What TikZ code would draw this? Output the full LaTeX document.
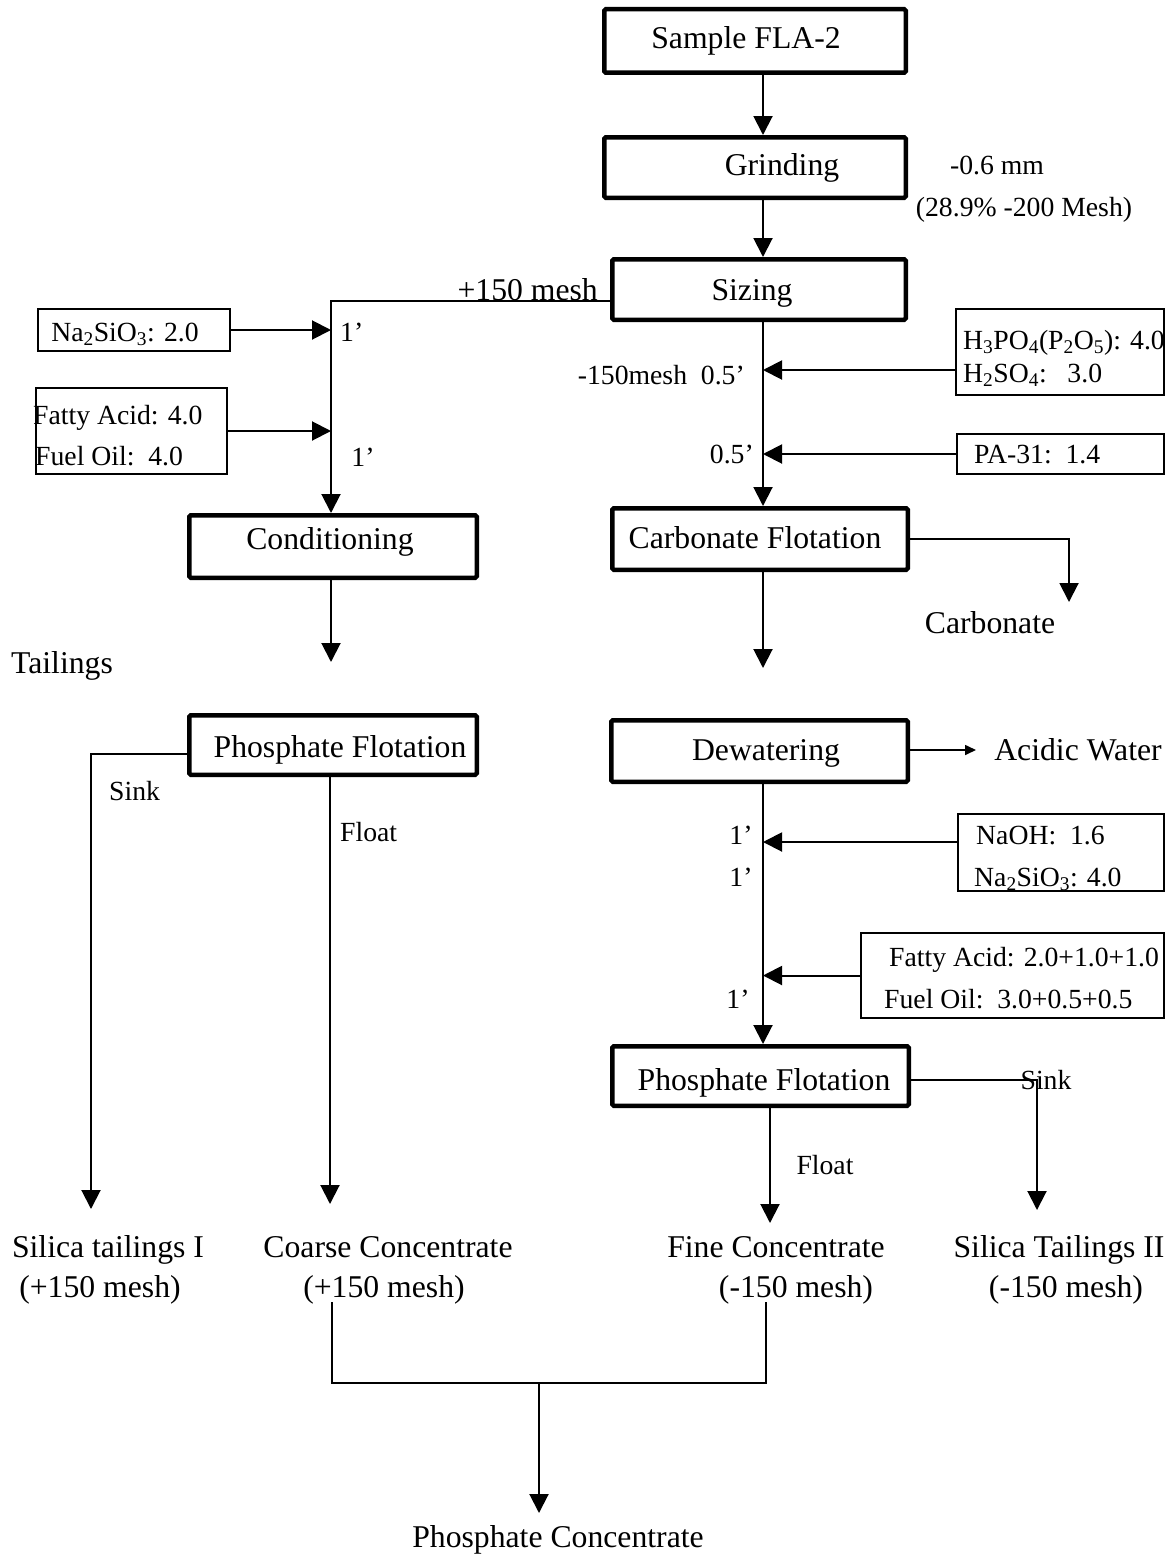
\documentclass[tikz,border=0pt]{standalone}
\usepackage{fontspec}
\setmainfont{Liberation Serif}
\usetikzlibrary{arrows.meta}
\begin{document}
\begin{tikzpicture}[x=1pt,y=-1pt,
  big/.style={font=\fontsize{31.7}{38}\selectfont, inner sep=0pt, text height=21pt, text depth=0pt},
  small/.style={font=\fontsize{27.7}{33}\selectfont, inner sep=0pt, text height=18.3pt, text depth=0pt},
  procbox/.style={draw, line width=4.5pt, rounded corners=1.5pt, inner sep=0pt},
  feedbox/.style={draw, line width=1.8pt, inner sep=0pt},
  flow/.style={line width=2pt, -{Triangle[length=19pt,width=19pt]}},
  smallflow/.style={line width=1.6pt, -{Triangle[length=11pt,width=10pt]}},
  plain/.style={line width=1.8pt},
]
\useasboundingbox (0,0) rectangle (1169,1555);

% ---------- process boxes ----------
\node[procbox, minimum width=301.5pt, minimum height=63.5pt] (sample)  at (755,41) {};
\node[procbox, minimum width=301.5pt, minimum height=60.5pt] (grind)   at (755,167.5) {};
\node[procbox, minimum width=293.5pt, minimum height=60.5pt] (sizing)  at (759,289.5) {};
\node[procbox, minimum width=295.5pt, minimum height=61.5pt] (carb)    at (760,539) {};
\node[procbox, minimum width=296.5pt, minimum height=61.5pt] (dewater) at (759.5,751) {};
\node[procbox, minimum width=296.5pt, minimum height=59.5pt] (pftwo)   at (760.5,1076) {};
\node[procbox, minimum width=287.5pt, minimum height=62.5pt] (cond)    at (333,546.5) {};
\node[procbox, minimum width=287.5pt, minimum height=59.5pt] (pfone)   at (333,745) {};

% ---------- reagent boxes ----------
\node[feedbox, minimum width=192pt, minimum height=42pt] (naone) at (134,330) {};
\node[feedbox, minimum width=191pt, minimum height=86pt] (faone) at (131.5,431) {};
\node[feedbox, minimum width=208pt, minimum height=86pt] (acid)  at (1060,352) {};
\node[feedbox, minimum width=207pt, minimum height=40pt] (pa)    at (1060.5,454) {};
\node[feedbox, minimum width=206pt, minimum height=77pt] (naoh)  at (1061,852.5) {};
\node[feedbox, minimum width=303pt, minimum height=85pt] (fatwo) at (1012.5,975.5) {};

% ---------- routing points ----------
\coordinate (colR) at (763,0);
\coordinate (coarseTurn) at (331,301);
\coordinate (acidIn) at (955,370);
\coordinate (naohIn) at (957,842);
\coordinate (carbTurn) at (1069,539);
\coordinate (carbEnd) at (1069,602);
\coordinate (carbOut) at (763,668);
\coordinate (acidEnd) at (976,750);
\coordinate (sinkTwoTurn) at (1037,1080);
\coordinate (sinkTwoEnd) at (1037,1210);
\coordinate (fineEnd) at (770,1223);
\coordinate (sinkOneTurn) at (91,754);
\coordinate (sinkOneEnd) at (91,1209);
\coordinate (coarseEnd) at (330,1204);
\coordinate (condOut) at (331,662);
\coordinate (mergeL) at (332,1302);
\coordinate (mergeLB) at (332,1383);
\coordinate (mergeRB) at (766,1383);
\coordinate (mergeR) at (766,1302);
\coordinate (mergeMid) at (539,1383);
\coordinate (finalEnd) at (539,1513);

% ---------- main (fine) line ----------
\draw[flow] (sample.south -| colR) -- (grind.north -| colR);
\draw[flow] (grind.south -| colR) -- (sizing.north -| colR);
\draw[flow] (sizing.south -| colR) -- (carb.north -| colR);
\draw[flow] (acid.west |- acidIn) -- (acidIn -| colR);
\draw[flow] (pa.west) -- (pa.west -| colR);
\draw[flow] (carb.east |- carbTurn) -- (carbTurn) -- (carbEnd);
\draw[flow] (carb.south -| colR) -- (carbOut);
\draw[smallflow] (dewater.east |- acidEnd) -- (acidEnd);
\draw[flow] (dewater.south -| colR) -- (pftwo.north -| colR);
\draw[flow] (naoh.west |- naohIn) -- (naohIn -| colR);
\draw[flow] (fatwo.west) -- (fatwo.west -| colR);
\draw[flow] (pftwo.east |- sinkTwoTurn) -- (sinkTwoTurn) -- (sinkTwoEnd);
\draw[flow] (pftwo.south -| fineEnd) -- (fineEnd);

% ---------- coarse line ----------
\draw[flow] (sizing.west |- coarseTurn) -- (coarseTurn) -- (cond.north -| coarseTurn);
\draw[flow] (naone.east) -- (naone.east -| coarseTurn);
\draw[flow] (faone.east) -- (faone.east -| coarseTurn);
\draw[flow] (cond.south -| condOut) -- (condOut);
\draw[flow] (pfone.west |- sinkOneTurn) -- (sinkOneTurn) -- (sinkOneEnd);
\draw[flow] (pfone.south -| coarseEnd) -- (coarseEnd);

% ---------- combining the concentrates ----------
\draw[plain] (mergeL) -- (mergeLB) -- (mergeRB) -- (mergeR);
\draw[flow] (mergeMid) -- (finalEnd);

% ---------- box titles ----------
\node[big] (tSample) at (746,38) {Sample FLA-2};
\node[big] (tGrind) at (782,165) {Grinding};
\node[big] (tSizing) at (752,290) {Sizing};
\node[big] (tCarb) at (755,538) {Carbonate Flotation};
\node[big] (tDew) at (766,750) {Dewatering};
\node[big] (tPfTwo) at (764,1080) {Phosphate Flotation};
\node[big] (tCond) at (330,539) {Conditioning};
\node[big] (tPfOne) at (340,747) {Phosphate Flotation};

% ---------- reagent texts ----------
\node[small] (lNaOne) at (125,332) {Na\textsubscript{2}SiO\textsubscript{3}: 2.0};
\node[small, anchor=west] (lFaOne) at (33,415) {Fatty Acid: 4.0};
\node[small, anchor=west] (lFoOne) at (35,456) {Fuel Oil:~~4.0};
\node[small, anchor=west] (lAcidA) at (963,340) {H\textsubscript{3}PO\textsubscript{4}(P\textsubscript{2}O\textsubscript{5}): 4.0};
\node[small, anchor=west] (lAcidB) at (963,373) {H\textsubscript{2}SO\textsubscript{4}:~~~3.0};
\node[small, anchor=west] (lPa) at (974,454) {PA-31:~~1.4};
\node[small, anchor=west] (lNaoh) at (976,835) {NaOH:~~1.6};
\node[small, anchor=west] (lNaTwo) at (974,877) {Na\textsubscript{2}SiO\textsubscript{3}: 4.0};
\node[small, anchor=west] (lFaTwo) at (889,957) {Fatty Acid: 2.0+1.0+1.0};
\node[small, anchor=west] (lFoTwo) at (884,999) {Fuel Oil:~~3.0+0.5+0.5};

% ---------- times and stream labels ----------
\node[small] (lMm) at (997,165) {-0.6 mm};
\node[small] (lPct) at (1024,207) {(28.9\% -200 Mesh)};
\node[big, anchor=east] (lPlus) at (598,290) {+150 mesh};
\node[small, anchor=west] (tOneA) at (340,332) {1’};
\node[small] (tOneB) at (363,457) {1’};
\node[small, anchor=east] (lMinus) at (745,375) {-150mesh~~0.5’};
\node[small, anchor=east] (tHalf) at (754,454) {0.5’};
\node[small] (tOneC) at (741,835) {1’};
\node[small] (tOneD) at (741,877) {1’};
\node[small] (tOneE) at (738,999) {1’};
\node[big] (lCarbonate) at (990,623) {Carbonate};
\node[big] (lTailings) at (62,663) {Tailings};
\node[big] (lAcidic) at (1078,750) {Acidic Water};
\node[small, anchor=west] (lSinkOne) at (109,791) {Sink};
\node[small, anchor=west] (lFloatOne) at (340,832) {Float};
\node[small] (lSinkTwo) at (1046,1080) {Sink};
\node[small] (lFloatTwo) at (825,1165) {Float};

% ---------- products ----------
\node[big] (pSilOne) at (108,1247) {Silica tailings I};
\node[big] (pSilOneM) at (100,1287) {(+150 mesh)};
\node[big] (pCoarse) at (388,1247) {Coarse Concentrate};
\node[big] (pCoarseM) at (384,1287) {(+150 mesh)};
\node[big] (pFine) at (776,1247) {Fine Concentrate};
\node[big] (pFineM) at (796,1287) {(-150 mesh)};
\node[big] (pSilTwo) at (1059,1247) {Silica Tailings II};
\node[big] (pSilTwoM) at (1066,1287) {(-150 mesh)};
\node[big] (pFinal) at (558,1537) {Phosphate Concentrate};
\end{tikzpicture}
\end{document}
